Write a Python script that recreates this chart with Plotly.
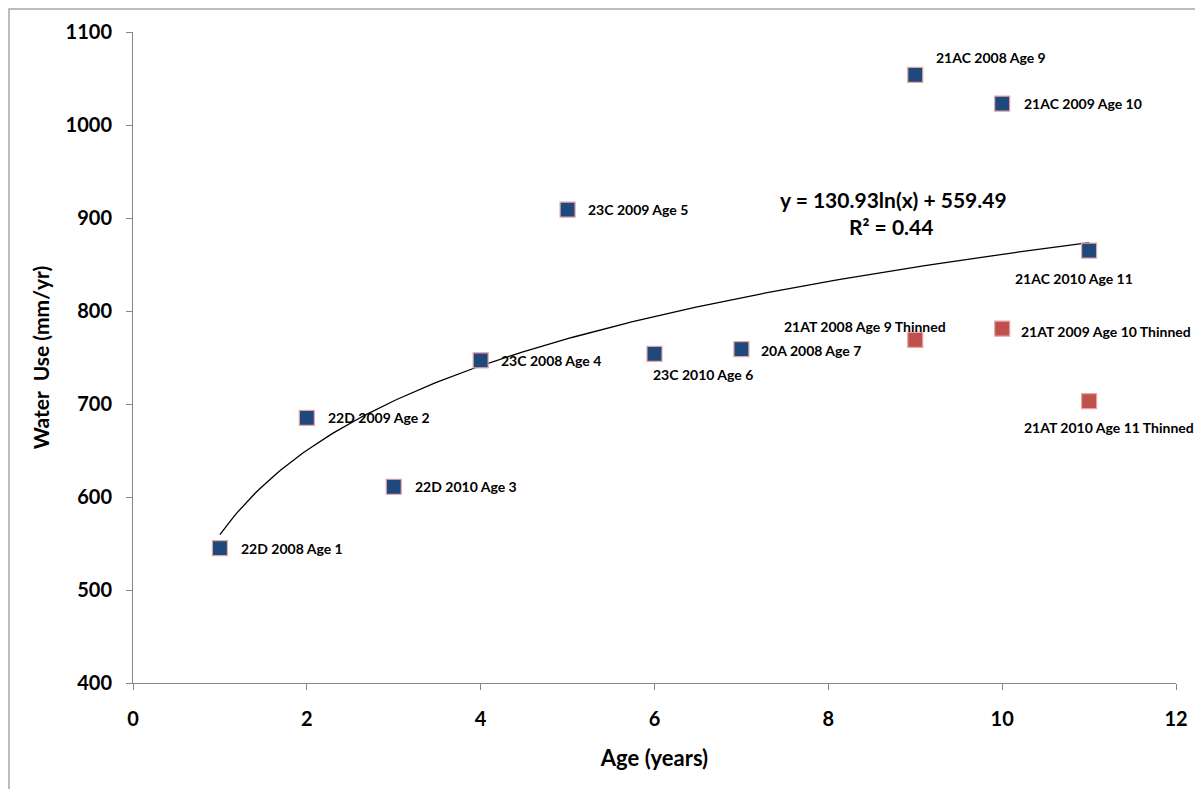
import numpy as np
import plotly.graph_objects as go

# ---- data ----
labels_ctrl = ["22D 2008 Age 1", "22D 2009 Age 2", "22D 2010 Age 3", "23C 2008 Age 4",
               "23C 2009 Age 5", "23C 2010 Age 6", "20A 2008 Age 7", "21AC 2008 Age 9",
               "21AC 2009 Age 10", "21AC 2010 Age 11"]
age_ctrl = [1, 2, 3, 4, 5, 6, 7, 9, 10, 11]
water_ctrl = [545, 685, 611, 747, 909, 754, 759, 1054, 1023, 865]

labels_thin = ["21AT 2008 Age 9 Thinned", "21AT 2009 Age 10 Thinned", "21AT 2010 Age 11 Thinned"]
age_thin = [9, 10, 11]
water_thin = [769, 781, 703]

fit_a = 130.93
fit_b = 559.49
fit_r2 = 0.44

# label placement (pixel offsets: dx, dy, anchor)
off_ctrl = [(19, 0, "left"), (19, 0, "left"), (19, 0, "left"), (18, 0, "left"),
            (18, 0, "left"), (48, -21, "center"), (18, -1, "left"), (19, 17, "left"),
            (20, 0, "left"), (-15, -28, "center")]
off_thin = [(-50, 13, "center"), (17, -3, "left"), (20, -26, "center")]

BLUE = "#1F497D"
RED = "#C0504D"
FONT = "Lato"

fig = go.Figure()

# trendline
xs = np.linspace(min(age_ctrl), max(age_ctrl + age_thin), 200)
fig.add_trace(go.Scatter(x=xs, y=fit_a * np.log(xs) + fit_b, mode="lines",
                         line=dict(color="black", width=1.3), hoverinfo="skip",
                         showlegend=False))

fig.add_trace(go.Scatter(x=age_ctrl, y=water_ctrl, mode="markers",
                         marker=dict(symbol="square", size=15, color=BLUE,
                                     line=dict(color="#E6A5A3", width=1.2)),
                         showlegend=False))
fig.add_trace(go.Scatter(x=age_thin, y=water_thin, mode="markers",
                         marker=dict(symbol="square", size=15, color=RED,
                                     line=dict(color="#E6A5A3", width=1.2)),
                         showlegend=False))

for xs_, ys_, ls_, os_ in [(age_ctrl, water_ctrl, labels_ctrl, off_ctrl),
                           (age_thin, water_thin, labels_thin, off_thin)]:
    for x, y, t, (dx, dy, anc) in zip(xs_, ys_, ls_, os_):
        fig.add_annotation(x=x, y=y, text=t, showarrow=False, xanchor=anc,
                           yanchor="middle", xshift=dx, yshift=dy,
                           font=dict(family=FONT, size=14, color="black", weight="bold"))

fig.add_annotation(x=8.75, y=920, text=f"y = {fit_a}ln(x) + {fit_b}", showarrow=False,
                   xanchor="center", yanchor="middle",
                   font=dict(family=FONT, size=21, color="black", weight="bold"))
fig.add_annotation(x=8.72, y=891, text=f"R² = {fit_r2}", showarrow=False,
                   xanchor="center", yanchor="middle",
                   font=dict(family=FONT, size=21, color="black", weight="bold"))

# outer chart border
fig.add_shape(type="rect", xref="paper", yref="paper",
              x0=(9 - 133) / 1043, x1=1.2, y0=-0.4, y1=(683 - 9) / 651,
              line=dict(color="#A6A6A6", width=1.5), layer="below")

axis_common = dict(showgrid=False, zeroline=False, showline=True, linecolor="#868686",
                   linewidth=1, ticks="outside", tickcolor="#868686", ticklen=6,
                   tickfont=dict(family=FONT, size=20, color="black", weight="bold"))

fig.update_xaxes(range=[0, 12], dtick=2, tick0=0, ticklabelstandoff=12,
                 title=dict(text="Age (years)", standoff=21,
                            font=dict(family=FONT, size=22, color="black", weight="bold")),
                 **axis_common)
fig.update_yaxes(range=[400, 1100], dtick=100, ticklabelstandoff=10,
                 title=dict(text="Water  Use (mm/yr)", standoff=10,
                            font=dict(family=FONT, size=21, color="black", weight="bold")),
                 **axis_common)

fig.update_layout(width=1203, height=789, margin=dict(l=125, r=35, t=24, b=114),
                  plot_bgcolor="white", paper_bgcolor="white")

fig.write_html("out.html")
